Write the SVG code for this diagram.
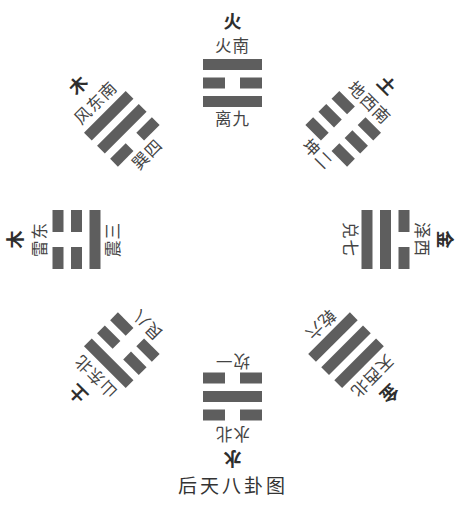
<svg xmlns="http://www.w3.org/2000/svg" width="459" height="505" viewBox="0 0 459 505">
<style>
.bar{fill:#5e5e5e}
text{font-family:"Noto Sans CJK SC","Noto Sans CJK JP",sans-serif;text-anchor:middle;dominant-baseline:central;fill:#444}
.el{font-size:18px;font-weight:bold;fill:#2e2e2e}
.lb{font-size:16.5px;letter-spacing:1px}
.cap{font-size:19px;letter-spacing:3px;fill:#333}
</style>
<defs>
<g id="yang"><rect class="bar" x="-29.5" y="-5.5" width="59" height="11"/></g>
<g id="yin"><rect class="bar" x="-29.5" y="-5.5" width="22" height="11"/><rect class="bar" x="7.5" y="-5.5" width="22" height="11"/></g>
</defs>
<rect width="459" height="505" fill="#fff"/>
<g id="connectors"/>
<g id="li" transform="translate(232.5,83) rotate(0)">
<use href="#yang" y="-18.5"/><use href="#yin" y="0"/><use href="#yang" y="18.5"/>
<text class="el" y="-63">火</text><text class="lb" y="-38">火南</text><text class="lb" y="35">离九</text>
</g>
<g id="kun" transform="translate(343.2,128.8) rotate(45)">
<use href="#yin" y="-18.5"/><use href="#yin" y="0"/><use href="#yin" y="18.5"/>
<text class="el" y="-63">土</text><text class="lb" y="-38">地西南</text><text class="lb" y="35">坤二</text>
</g>
<g id="dui" transform="translate(385.5,239.5) rotate(90)">
<use href="#yin" y="-18.5"/><use href="#yang" y="0"/><use href="#yang" y="18.5"/>
<text class="el" y="-60.5">金</text><text class="lb" y="-37.5">泽西</text><text class="lb" y="35">兑七</text>
</g>
<g id="qian" transform="translate(346,350.2) rotate(135)">
<use href="#yang" y="-18.5"/><use href="#yang" y="0"/><use href="#yang" y="18.5"/>
<text class="el" y="-63">金</text><text class="lb" y="-38">天西北</text><text class="lb" y="35">乾六</text>
</g>
<g id="kan" transform="translate(232.5,396.5) rotate(180)">
<use href="#yin" y="-18.5"/><use href="#yang" y="0"/><use href="#yin" y="18.5"/>
<text class="el" y="-63">水</text><text class="lb" y="-38">水北</text><text class="lb" y="35">坎一</text>
</g>
<g id="gen" transform="translate(121.8,350.2) rotate(225)">
<use href="#yang" y="-18.5"/><use href="#yin" y="0"/><use href="#yin" y="18.5"/>
<text class="el" y="-63">土</text><text class="lb" y="-38">山东北</text><text class="lb" y="35">艮八</text>
</g>
<g id="zhen" transform="translate(76.5,239.5) rotate(270)">
<use href="#yin" y="-18.5"/><use href="#yin" y="0"/><use href="#yang" y="18.5"/>
<text class="el" y="-63">木</text><text class="lb" y="-38">雷东</text><text class="lb" y="35">震三</text>
</g>
<g id="xun" transform="translate(121.8,128.8) rotate(315)">
<use href="#yang" y="-18.5"/><use href="#yang" y="0"/><use href="#yin" y="18.5"/>
<text class="el" y="-63">木</text><text class="lb" y="-38">风东南</text><text class="lb" y="35">巽四</text>
</g>
<text id="caption" class="cap" x="233" y="484">后天八卦图</text>
</svg>
